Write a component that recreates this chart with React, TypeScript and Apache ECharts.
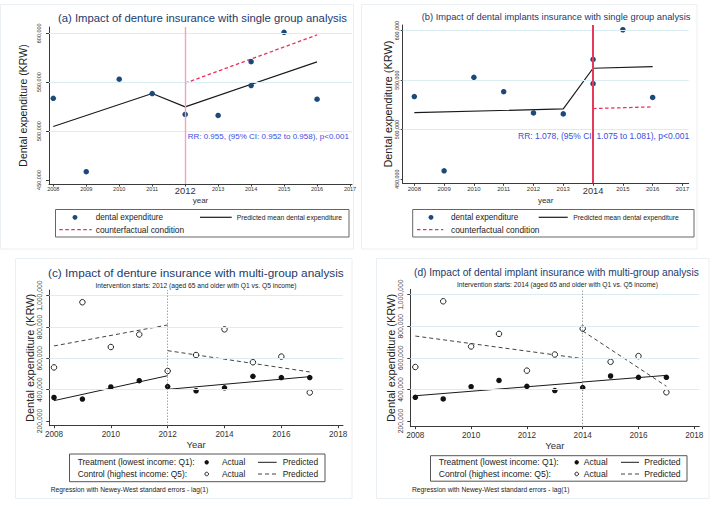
import React, { useEffect, useRef } from "react";
import * as echarts from "echarts";

// ---------- data ----------
const singleYears = [2008, 2009, 2010, 2011, 2012, 2013, 2014, 2014, 2015, 2016];
const singleExpenditure = [533500, 458500, 553000, 538400, 517000, 516000, 571000, 546500, 601000, 532600];

const predAYears = [2008, 2011, 2012, 2016];
const predAValues = [504700, 538400, 524800, 570700];
const cfAYears = [2012, 2016];
const cfAValues = [549000, 598300];

const predBYears = [2008, 2013, 2014, 2016];
const predBValues = [517300, 521000, 562100, 563700];
const cfBYears = [2014, 2016];
const cfBValues = [521400, 523100];

const multiYears = [2008, 2009, 2010, 2011, 2012, 2013, 2014, 2015, 2016, 2017];
const treatmentActual = [350000, 340000, 417000, 457000, 420000, 393000, 412000, 485000, 477000, 477000];
const controlActual = [542000, 958000, 672000, 752000, 519000, 621000, 785000, 575000, 611000, 382000];

const predCTreatPreYears = [2008, 2012];
const predCTreatPre = [330000, 489000];
const predCTreatPostYears = [2012, 2017];
const predCTreatPost = [402000, 483000];
const predCCtrlPre = [679000, 813000];
const predCCtrlPost = [649000, 513000];

const predDTreatPreYears = [2008, 2014];
const predDTreatPre = [360000, 445000];
const predDTreatPostYears = [2014, 2017];
const predDTreatPost = [447000, 489000];
const predDCtrlPre = [738000, 595000];
const predDCtrlPost = [770000, 420000];

const singleYearTicks = [2008, 2009, 2010, 2011, 2012, 2013, 2014, 2015, 2016, 2017];
const singleValueTicks = [450000, 500000, 550000, 600000];
const multiYearTicks = [2008, 2010, 2012, 2014, 2016, 2018];
const multiValueTicks = [200000, 400000, 600000, 800000, 1000000];

const interventionA = 2012;
const interventionB = 2014;
const interventionC = 2012;
const interventionD = 2014;

const titleA = "(a) Impact of denture insurance with single group analysis";
const titleB = "(b) Impact of dental implants insurance with single group analysis";
const titleC = "(c) Impact of denture insurance with multi-group analysis";
const titleD = "(d) Impact of dental implant insurance with multi-group analysis";
const subC = "Intervention starts: 2012 (aged 65 and older with Q1 vs. Q5 income)";
const subD = "Intervention starts: 2014 (aged 65 and older with Q1 vs. Q5 income)";
const rrA = "RR: 0.955, (95% CI: 0.952 to 0.958), p<0.001";
const rrB = "RR: 1.078, (95% CI: 1.075 to 1.081), p<0.001";
const footnote = "Regression with Newey-West standard errors - lag(1)";

// ---------- helpers ----------
const FONT = "'Liberation Sans', Arial, Helvetica, sans-serif";
const NAVY = "#1b4a7a";
const TITLE = "#24396b";
const GRIDC = "#d9edf2";
const AXIS = "#3a3a3a";

const zip = (xs: number[], ys: number[]) => xs.map((x, i) => [x, ys[i]]);
const commas = (v: number) => String(Math.round(v)).replace(/\B(?=(\d{3})+(?!\d))/g, ",");

function xAxisDef(
  gridIndex: number, min: number, max: number, ticks: number[], fontSize: number,
  margin: number, name: string, nameGap: number, nameSize: number, big?: number, bigSize?: number
) {
  return {
    type: "value", gridIndex, min, max,
    axisLine: { show: true, onZero: false, lineStyle: { color: AXIS, width: 1 } },
    axisTick: { show: true, length: 2.5, customValues: ticks, lineStyle: { color: AXIS } },
    axisLabel: {
      customValues: ticks, fontSize, margin, color: "#333", fontFamily: FONT,
      formatter: (v: number) => (big !== undefined && Math.round(v) === big ? `{big|${Math.round(v)}}` : `${Math.round(v)}`),
      rich: { big: { fontSize: bigSize || fontSize, fontFamily: FONT, color: "#333" } },
    },
    splitLine: { show: false },
    name, nameLocation: "middle", nameGap,
    nameTextStyle: { fontSize: nameSize, fontFamily: FONT, color: "#333" },
  };
}

function yAxisDef(
  gridIndex: number, min: number, max: number, ticks: number[], fontSize: number,
  margin: number, nameGap: number, nameSize: number, tickLen = 3
) {
  return {
    type: "value", gridIndex, min, max,
    axisLine: { show: true, onZero: false, lineStyle: { color: AXIS, width: 1 } },
    axisTick: { show: true, length: tickLen, customValues: ticks, lineStyle: { color: AXIS } },
    axisLabel: {
      customValues: ticks, rotate: 90, fontSize, margin, color: "#333", fontFamily: FONT,
      formatter: (v: number) => commas(v),
    },
    splitLine: { show: false },
    name: "Dental expenditure (KRW)", nameLocation: "middle", nameGap,
    nameTextStyle: { fontSize: nameSize, fontFamily: FONT, color: "#222" },
  };
}

function gridLines(idx: number, values: number[]) {
  return {
    type: "line", xAxisIndex: idx, yAxisIndex: idx, data: [], z: 0, silent: true,
    markLine: {
      silent: true, symbol: ["none", "none"], label: { show: false },
      lineStyle: { color: GRIDC, type: "solid", width: 1 },
      emphasis: { disabled: true },
      data: values.map((v) => ({ yAxis: v })),
    },
  };
}

function vLine(idx: number, x: number, color: string, width: number, type: any) {
  return {
    type: "line", xAxisIndex: idx, yAxisIndex: idx, data: [], z: 1, silent: true,
    markLine: {
      silent: true, symbol: ["none", "none"], label: { show: false },
      lineStyle: { color, type, width },
      emphasis: { disabled: true },
      data: [{ xAxis: x }],
    },
  };
}

function lineSeries(idx: number, data: number[][], color: string, width: number, type: any) {
  return {
    type: "line", xAxisIndex: idx, yAxisIndex: idx, data, symbol: "none", z: 3, silent: true,
    lineStyle: { color, width, type },
  };
}

function scatterSeries(idx: number, data: number[][], fill: string, stroke: string, size: number) {
  return {
    type: "scatter", xAxisIndex: idx, yAxisIndex: idx, data, symbol: "circle", symbolSize: size, z: 4, silent: true,
    itemStyle: { color: fill, borderColor: stroke, borderWidth: fill === stroke ? 0 : 1, opacity: 1 },
  };
}

function txt(text: string, x: number, y: number, size: number, fill = "#222", align = "left") {
  return {
    type: "text", x, y, silent: true,
    style: { text, fontSize: size, fontFamily: FONT, fill, align, verticalAlign: "middle" },
  };
}
function ln(x1: number, y1: number, x2: number, y2: number, stroke: string, w: number, dash?: number[]) {
  return {
    type: "line", silent: true, shape: { x1, y1, x2, y2 },
    style: { stroke, lineWidth: w, lineDash: dash || null },
  };
}
function box(x: number, y: number, w: number, h: number, stroke: string, lw = 1) {
  return { type: "rect", silent: true, shape: { x, y, width: w, height: h }, style: { fill: "none", stroke, lineWidth: lw } };
}
function dot(cx: number, cy: number, r: number, fill: string, stroke?: string) {
  return { type: "circle", silent: true, shape: { cx, cy, r }, style: { fill, stroke: stroke || "none", lineWidth: 1 } };
}

const DASH = [4, 3];

export default function App() {
  const ref = useRef<HTMLDivElement>(null);
  useEffect(() => {
    if (!ref.current) return;
    const chart = echarts.init(ref.current, undefined, { renderer: "svg" });
    const option: any = {
      animation: false,
      backgroundColor: "#ffffff",
      grid: [
        { left: 49, top: 27, width: 303, height: 157, outerBoundsMode: "none" },
        { left: 402.7, top: 25, width: 286, height: 158.3, outerBoundsMode: "none" },
        { left: 49.3, top: 290, width: 293.7, height: 135.7, outerBoundsMode: "none" },
        { left: 410.3, top: 289.3, width: 289, height: 137.4, outerBoundsMode: "none" },
      ],
      xAxis: [
        xAxisDef(0, 2007.87, 2017.06, singleYearTicks, 5.5, 2, "year", 12, 8, interventionA, 9.4),
        xAxisDef(1, 2007.61, 2017.21, singleYearTicks, 6, 3, "year", 13, 8, interventionB, 9.3),
        xAxisDef(2, 2007.835, 2018.17, multiYearTicks, 8.2, 5, "Year", 12.5, 9.5),
        xAxisDef(3, 2007.82, 2018.18, multiYearTicks, 8.2, 4.5, "Year", 12.5, 9.5),
      ],
      yAxis: [
        yAxisDef(0, 445900, 606400, singleValueTicks, 5.5, 7, 21, 10.5),
        yAxisDef(1, 445900, 605800, singleValueTicks, 5.3, 3.5, 9, 10.9, 2),
        yAxisDef(2, 170000, 1036000, multiValueTicks, 6.8, 6, 13.5, 11),
        yAxisDef(3, 164000, 1034000, multiValueTicks, 6.8, 6, 12.8, 11),
      ],
      series: [
        // panel a
        gridLines(0, [500000, 550000, 600000]),
        vLine(0, interventionA, "#f4a3b6", 1.4, "solid"),
        lineSeries(0, zip(predAYears, predAValues), "#1a1a1a", 1.2, "solid"),
        lineSeries(0, zip(cfAYears, cfAValues), "#e8315a", 1.3, [3.5, 2.5]),
        scatterSeries(0, zip(singleYears, singleExpenditure), NAVY, NAVY, 5.5),
        // panel b
        gridLines(1, [500000, 550000, 600000]),
        vLine(1, interventionB, "#e6395e", 2, "solid"),
        lineSeries(1, zip(predBYears, predBValues), "#1a1a1a", 1.2, "solid"),
        lineSeries(1, zip(cfBYears, cfBValues), "#e8315a", 1.3, [3.5, 2.5]),
        scatterSeries(1, zip(singleYears, singleExpenditure), NAVY, NAVY, 5.5),
        // panel c
        gridLines(2, [400000, 600000, 800000, 1000000]),
        vLine(2, interventionC, "#777777", 1, [1, 2]),
        lineSeries(2, zip(predCTreatPreYears, predCTreatPre), "#1a1a1a", 1, "solid"),
        lineSeries(2, zip(predCTreatPostYears, predCTreatPost), "#1a1a1a", 1, "solid"),
        lineSeries(2, zip(predCTreatPreYears, predCCtrlPre), "#444444", 1, DASH),
        lineSeries(2, zip(predCTreatPostYears, predCCtrlPost), "#444444", 1, DASH),
        scatterSeries(2, zip(multiYears, treatmentActual), "#111111", "#111111", 5.5),
        scatterSeries(2, zip(multiYears, controlActual), "#ffffff", "#222222", 5.5),
        // panel d
        gridLines(3, [400000, 600000, 800000, 1000000]),
        vLine(3, interventionD, "#777777", 1, [1, 2]),
        lineSeries(3, zip(predDTreatPreYears, predDTreatPre), "#1a1a1a", 1, "solid"),
        lineSeries(3, zip(predDTreatPostYears, predDTreatPost), "#1a1a1a", 1, "solid"),
        lineSeries(3, zip(predDTreatPreYears, predDCtrlPre), "#444444", 1, DASH),
        lineSeries(3, zip(predDTreatPostYears, predDCtrlPost), "#444444", 1, DASH),
        scatterSeries(3, zip(multiYears, treatmentActual), "#111111", "#111111", 5.5),
        scatterSeries(3, zip(multiYears, controlActual), "#ffffff", "#222222", 5.5),
      ],
      graphic: [
        // faint panel frames
        box(0.5, 4.5, 353, 244.5, "#eaeff3"),
        box(361.5, 4.5, 335.5, 244.5, "#eaeff3"),
        box(15.5, 258.5, 336.5, 240, "#eaeff3"),
        box(376.5, 258.5, 332.5, 240, "#eaeff3"),
        // titles
        txt(titleA, 58, 18, 11.3, TITLE),
        txt(titleB, 421.7, 16.7, 9.3, TITLE),
        txt(titleC, 48, 273.3, 11.8, TITLE),
        txt(titleD, 414, 272.7, 10.2, TITLE),
        txt(subC, 196, 285, 6.7, "#222", "center"),
        txt(subD, 557.5, 284.3, 6.7, "#222", "center"),
        // RR notes
        txt(rrA, 187.7, 136.7, 8, "#3a4de0"),
        txt(rrB, 518, 135.7, 8.5, "#3a4de0"),
        // legend a
        box(55.5, 209.5, 293.5, 27.5, "#666"),
        dot(75, 217.3, 2.4, NAVY),
        txt("dental expenditure", 95.7, 217.3, 8.2, "#222"),
        ln(200, 217.3, 231.7, 217.3, "#1a1a1a", 1.2),
        txt("Predicted mean dental expenditure", 236.7, 217.3, 6.8, "#222"),
        ln(59.3, 229.7, 91.7, 229.7, "#e8315a", 1.3, [3.5, 2.5]),
        txt("counterfactual condition", 95.7, 229.7, 8.4, "#222"),
        // legend b
        box(412.7, 209.5, 281.3, 27.5, "#666"),
        dot(431, 217.3, 2.4, NAVY),
        txt("dental expenditure", 451, 217.3, 8.2, "#222"),
        ln(538.7, 217.3, 567.7, 217.3, "#1a1a1a", 1.2),
        txt("Predicted mean dental expenditure", 573.3, 217.3, 6.8, "#222"),
        ln(417, 229.7, 443.3, 229.7, "#e8315a", 1.3, [3.5, 2.5]),
        txt("counterfactual condition", 451, 229.7, 8.4, "#222"),
        // legend c
        box(69.5, 454, 255.5, 27.7, "#555"),
        txt("Treatment (lowest income: Q1):", 77.7, 462.3, 8.4, "#222"),
        dot(206.7, 462.3, 2.2, "#111"),
        txt("Actual", 222, 462.3, 8.4, "#222"),
        ln(258, 462.3, 276.7, 462.3, "#1a1a1a", 1),
        txt("Predicted", 282.7, 462.3, 8.4, "#222"),
        txt("Control (highest income: Q5):", 77.7, 474, 8.4, "#222"),
        dot(206.7, 474, 1.8, "#fff", "#222"),
        txt("Actual", 222, 474, 8.4, "#222"),
        ln(258, 474, 277, 474, "#444", 1, DASH),
        txt("Predicted", 282.7, 474, 8.4, "#222"),
        txt(footnote, 50.7, 489.3, 6.7, "#222"),
        // legend d
        box(430.5, 455.7, 256.5, 25.5, "#555"),
        txt("Treatment (lowest income: Q1):", 438.7, 462.3, 8.6, "#222"),
        dot(576.7, 462.3, 2.2, "#111"),
        txt("Actual", 583.7, 462.3, 8.6, "#222"),
        ln(621, 462.3, 639, 462.3, "#1a1a1a", 1),
        txt("Predicted", 644.3, 462.3, 8.6, "#222"),
        txt("Control (highest income: Q5):", 438.7, 474, 8.6, "#222"),
        dot(576.7, 474, 1.8, "#fff", "#222"),
        txt("Actual", 583.7, 474, 8.6, "#222"),
        ln(621, 474, 639, 474, "#444", 1, DASH),
        txt("Predicted", 644.3, 474, 8.6, "#222"),
        txt(footnote, 412, 489, 6.7, "#222"),
      ],
    };
    chart.setOption(option);
    return () => chart.dispose();
  }, []);
  return (
    <div
      ref={ref}
      style={{ position: "absolute", left: 0, top: 0, width: 712, height: 505, background: "#fff" }}
    />
  );
}
